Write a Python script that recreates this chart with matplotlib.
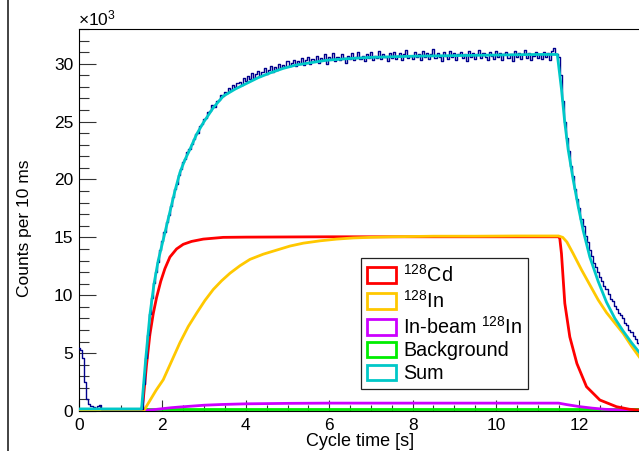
import numpy as np
import matplotlib
matplotlib.use("Agg")
import matplotlib.pyplot as plt
from matplotlib.patches import Patch
from matplotlib.lines import Line2D
from matplotlib.ticker import MultipleLocator

plt.rcParams['font.family'] = ['Liberation Sans', 'DejaVu Sans']
plt.rcParams['mathtext.fontset'] = 'custom'
plt.rcParams['mathtext.rm'] = 'Liberation Sans'
plt.rcParams['mathtext.it'] = 'Liberation Sans:italic'

# --- data (counts in units of 10^3 per 10 ms bin) ---
# measured spectrum, read every 0.05 s
data_dt = 0.05
data_k = [5.4, 5.3, 4.6, 2.5, 1.0, 0.6, 0.4, 0.35, 0.3, 0.45, 0.5, 0.2, 0.15,
          0.15, 0.15, 0.15, 0.15, 0.15, 0.15, 0.15, 0.15, 0.15,
          0.15, 0.15, 0.15, 0.15, 0.15, 0.15, 0.15, 0.15, 0.15,
          2.3, 4.6, 6.6, 8.4, 9.8, 11.1, 12.0, 12.9, 13.9, 14.7,
          15.5, 16.3, 16.9, 17.7, 18.5, 19.2, 19.6, 20.4, 20.9, 21.5,
          21.8, 22.4, 22.6, 23.1, 23.5, 23.9, 24.0, 24.6, 24.8, 25.2,
          25.3, 25.8, 25.9, 26.4, 26.3, 26.8, 26.9, 27.3, 27.2, 27.6,
          27.5, 27.9, 27.7, 28.2, 28.0, 28.3, 28.4, 28.2, 28.8, 28.5,
          28.9, 28.7, 29.2, 28.8, 29.1, 29.4, 28.9, 29.3, 29.6, 29.1,
          29.5, 29.8, 29.3, 29.7, 29.5, 30.0, 29.6, 29.9, 29.7, 30.2,
          29.8, 30.1, 30.3, 29.8, 30.2, 30.0, 30.5, 29.9, 30.3, 30.6,
          30.0, 30.4, 30.2, 30.7, 30.1, 30.5, 30.3, 30.8, 30.0, 30.6,
          30.4, 30.9, 30.2, 30.6, 30.3, 30.8, 30.5, 30.1, 30.7, 30.4,
          30.9, 30.3, 30.6, 31.0, 30.4, 30.7, 30.2, 30.8, 30.5, 31.0,
          30.3, 30.7, 30.5, 31.1, 30.4, 30.8, 30.6, 30.2, 30.9, 30.5,
          31.0, 30.4, 30.7, 30.9, 30.3, 30.8, 31.2, 30.5, 30.7, 30.4,
          31.0, 30.6, 30.8, 30.3, 31.1, 30.6, 30.9, 30.4, 30.8, 31.3,
          30.5, 30.9, 30.6, 30.2, 31.0, 30.7, 30.4, 31.1, 30.6, 30.9,
          30.3, 30.8, 31.0, 30.5, 30.8, 30.2, 31.1, 30.6, 30.9, 30.4,
          30.8, 31.2, 30.5, 30.9, 30.6, 30.3, 31.0, 30.7, 30.4, 31.1,
          30.6, 30.9, 30.3, 30.8, 31.0, 30.5, 30.8, 30.2, 31.1, 30.6,
          30.9, 30.4, 30.8, 31.2, 30.5, 30.9, 30.3, 30.7, 31.0, 30.5,
          30.8, 30.4, 31.0, 30.6, 30.9, 30.3, 31.1, 31.4, 30.8, 30.6,
          29.0, 26.8, 25.0, 23.6, 22.5, 21.2, 20.3, 19.2, 18.3, 17.5,
          16.6, 16.0, 15.1, 14.6, 13.9, 13.4, 12.8, 12.4, 12.0, 11.6,
          11.2, 10.8, 10.5, 10.1, 9.7, 9.5, 9.1, 8.8, 8.5, 8.3,
          8.0, 7.6, 7.4, 7.0, 6.8, 6.5, 6.2, 5.9, 5.7]
data_t = np.arange(len(data_k)) * data_dt

t_cd = [0, 1.50, 1.54, 1.62, 1.70, 1.78, 1.86, 1.96, 2.06, 2.18, 2.34, 2.50,
        2.70, 2.98, 3.46, 4.0, 6.0, 8.0, 10.0, 11.50, 11.53, 11.57, 11.65,
        11.77, 11.94, 12.17, 12.49, 12.89, 13.2, 13.45]
cd_k = [0, 0, 0.95, 4.0, 6.6, 8.4, 9.8, 11.2, 12.3, 13.3, 14.0, 14.4,
        14.65, 14.85, 15.0, 15.02, 15.05, 15.05, 15.05, 15.05, 14.9, 13.6, 9.3,
        6.4, 4.1, 2.1, 0.95, 0.37, 0.15, 0.08]

t_in = [0, 1.55, 1.70, 1.85, 2.02, 2.22, 2.42, 2.62, 2.82, 3.02, 3.22, 3.42,
        3.62, 3.86, 4.10, 4.42, 4.74, 5.06, 5.38, 5.78, 6.18, 6.58, 6.98, 7.5,
        8.5, 9.5, 10.5, 11.50, 11.60, 11.70, 11.85, 12.05, 12.25, 12.45, 12.65,
        12.85, 13.05, 13.25, 13.45]
in_k = [0, 0, 0.9, 1.8, 2.7, 4.3, 5.9, 7.3, 8.45, 9.55, 10.5, 11.25,
        11.9, 12.55, 13.1, 13.55, 13.9, 14.25, 14.5, 14.7, 14.85, 14.95, 15.0, 15.05,
        15.1, 15.1, 15.12, 15.12, 15.0, 14.6, 13.6, 12.2, 10.9, 9.6, 8.5,
        7.6, 6.7, 5.6, 4.6]

t_beam = [0, 1.5, 1.6, 1.8, 2.0, 2.2, 2.4, 2.7, 3.0, 3.4, 4.0, 5.0, 6.0, 8.0,
          10.0, 11.5, 11.7, 12.0, 12.3, 12.6, 13.0, 13.45]
beam_k = [0, 0, 0.05, 0.12, 0.2, 0.28, 0.34, 0.42, 0.5, 0.56, 0.62, 0.66, 0.68, 0.68,
          0.68, 0.68, 0.55, 0.38, 0.25, 0.15, 0.08, 0.04]

t_bg = [0, 13.45]
bg_k = [0.18, 0.18]

t_sum = [0, 1.50, 1.60, 1.70, 1.80, 1.90, 2.02, 2.18, 2.30, 2.42, 2.54, 2.66,
         2.82, 2.98, 3.22, 3.46, 3.74, 4.02, 4.30, 4.58, 4.90, 5.22, 5.58, 5.94,
         6.5, 7.0, 7.5, 8.0, 9.0, 10.0, 11.0, 11.47, 11.57, 11.65, 11.73, 11.85,
         11.97, 12.09, 12.25, 12.45, 12.65, 12.85, 13.05, 13.25, 13.45]
sum_k = [0.18, 0.18, 4.5, 8.3, 11.0, 13.0, 14.8, 17.2, 19.0, 20.6, 21.7, 22.6,
         23.9, 24.9, 26.2, 27.2, 27.8, 28.3, 28.8, 29.2, 29.6, 29.9, 30.1, 30.3,
         30.45, 30.55, 30.6, 30.65, 30.7, 30.75, 30.8, 30.8, 27.8, 24.9, 22.6, 20.0,
         17.7, 15.6, 13.3, 11.2, 9.4, 8.0, 6.9, 5.9, 5.0]

labels = [r'$^{128}$Cd', r'$^{128}$In', r'In-beam $^{128}$In', 'Background', 'Sum']
colors = ['#ff0000', '#ffc800', '#cc00ff', '#00ee00', '#00c8c8']
navy = '#00008c'

# --- figure ---
W, H = 639, 451
xmax = 13.6
fig = plt.figure(figsize=(W / 100, H / 100), dpi=100)
ax_left, ax_bottom = 79 / W, 1 - 411 / H
ax_w = xmax * 41.7 / W
ax_h = (411 - 29) / H
ax = fig.add_axes([ax_left, ax_bottom, ax_w, ax_h])

lw = 2.0
ax.plot(t_bg, bg_k, color=colors[3], lw=lw, zorder=2)
ax.plot(t_beam, beam_k, color=colors[2], lw=lw, zorder=3)
ax.plot(t_cd, cd_k, color=colors[0], lw=lw, zorder=4)
ax.plot(t_in, in_k, color=colors[1], lw=lw, zorder=5)
ax.plot(data_t, data_k, color=navy, lw=1.0, drawstyle='steps-mid', zorder=6)
ax.plot(t_sum, sum_k, color=colors[4], lw=lw, zorder=7)

ax.set_xlim(0, xmax)
ax.set_ylim(0, 33)
ax.xaxis.set_major_locator(MultipleLocator(2))
ax.xaxis.set_minor_locator(MultipleLocator(0.5))
ax.yaxis.set_major_locator(MultipleLocator(5))
ax.yaxis.set_minor_locator(MultipleLocator(1))
ax.tick_params(axis='both', which='both', direction='in', labelsize=12.5,
               width=0.8, color='#333333')
ax.tick_params(axis='y', which='major', length=12.5, pad=4)
ax.tick_params(axis='y', which='minor', length=7.2)
ax.tick_params(axis='x', which='major', length=8, pad=5)
ax.tick_params(axis='x', which='minor', length=4.3)
for s in ax.spines.values():
    s.set_linewidth(0.8)

fig.text(78 / W, 1 - 18 / H, r'$\times10^{3}$', fontsize=12.5, va='center', ha='left')
fig.text(414 / W, 1 - 441 / H, 'Cycle time [s]', fontsize=13, ha='right', va='center')
fig.text(25 / W, 1 - 228 / H, 'Counts per 10 ms', fontsize=12.5, rotation=90,
         ha='center', va='center')

# canvas border on the left
fig.add_artist(Line2D([8 / W, 8 / W], [0, 1], transform=fig.transFigure,
                      color='#222222', lw=1.2))

handles = [Patch(facecolor='none', edgecolor=c, lw=2) for c in colors]
leg = ax.legend(handles, labels, loc='upper left',
                bbox_to_anchor=(361 / W, 1 - 258 / H), bbox_transform=fig.transFigure,
                borderaxespad=0, fontsize=14.2, fancybox=False, framealpha=1,
                edgecolor='#222222', handlelength=1.45, handleheight=0.85,
                handletextpad=0.4, labelspacing=0.2, borderpad=0.3)
leg.get_frame().set_linewidth(0.9)

fig.savefig('out.png', dpi=100)
